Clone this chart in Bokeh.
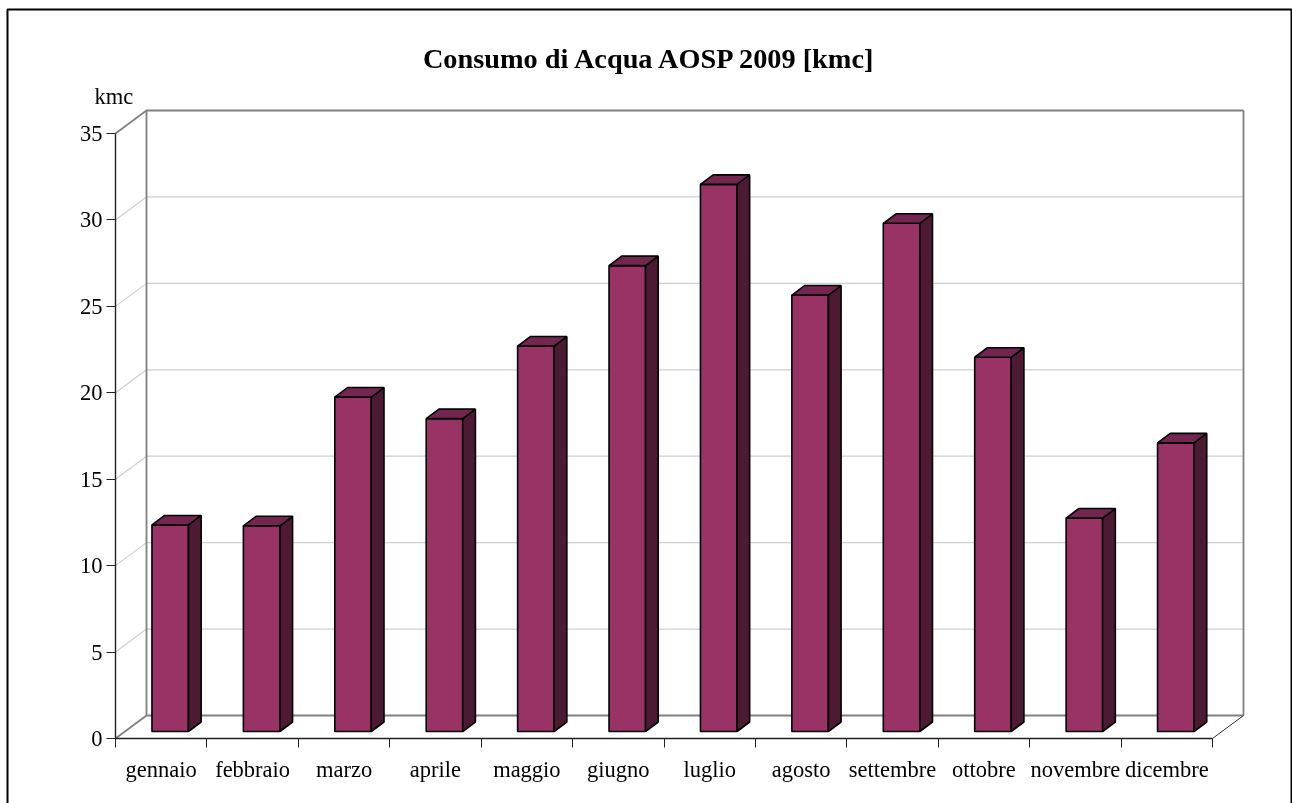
from bokeh.plotting import figure
from bokeh.embed import file_html
from bokeh.resources import INLINE
from bokeh.models import FixedTicker, Label, Range1d

months = ["gennaio", "febbraio", "marzo", "aprile", "maggio", "giugno",
          "luglio", "agosto", "settembre", "ottobre", "novembre", "dicembre"]
consumo = [11.95, 11.9, 19.35, 18.1, 22.3, 26.95, 31.65, 25.25, 29.4, 21.65, 12.35, 16.7]
y_ticks = [0, 5, 10, 15, 20, 25, 30, 35]
title_text = "Consumo di Acqua AOSP 2009 [kmc]"
unit_text = "kmc"

FONT = "Liberation Serif"
W, H = 1292, 803
L, R, T, B = 115, 1243, 110, 738
px_x = (1212 - 115) / 12
px_y = (738 - 133) / 35
DX, DY = (R - 1212) / px_x, (738 - 715) / px_y   # wall depth in data units
BW = 36.5 / px_x
BOFF = 9.0 / px_x
BBASE = 7.0 / px_y
SDX, SDY = 12.7 / px_x, 9.5 / px_y


def fx(px):
    return (px - L) / px_x


def fy(px):
    return (B - px) / px_y


p = figure(width=W, height=H, output_backend="svg", toolbar_location=None,
           x_range=Range1d(fx(0), fx(W)), y_range=Range1d(fy(H), fy(0)),
           min_border=0,
           background_fill_color="white", border_fill_color="white",
           styles={"position": "fixed", "left": "0px", "top": "0px"})
p.grid.visible = False
p.outline_line_color = None

# frame of the picture (open at the bottom, as in the reference)
p.line([fx(7), fx(7), fx(1291), fx(1291)], [fy(H + 5), fy(9), fy(9), fy(H + 5)], line_color="black", line_width=2)

# walls
for v in y_ticks[1:-1]:
    p.line([0, DX, 12 + DX], [v, v + DY, v + DY], line_color="#cfcfcf", line_width=1.2)
p.line([0, DX, 12 + DX], [35, 35 + DY, 35 + DY], line_color="#808080", line_width=1.8)
p.line([DX, DX], [DY, 35 + DY], line_color="#808080", line_width=1.8)
p.line([0, DX, 12 + DX], [0, DY, DY], line_color="#808080", line_width=1.8)
p.line([12 + DX, 12 + DX], [DY, 35 + DY], line_color="#808080", line_width=1.8)
p.line([12, 12 + DX], [0, DY], line_color="#303030", line_width=1)

# bars
xl = [i + (1 - BW) / 2 + BOFF for i in range(12)]
xr = [a + BW for a in xl]
bot = [BBASE] * 12
top = [BBASE + v for v in consumo]
p.quad(left=xl, right=xr, bottom=bot, top=top, fill_color="#993366", line_color="black", line_width=1.6)
p.patches([[r, r + SDX, r + SDX, r] for r in xr],
          [[b, b + SDY, t + SDY, t] for b, t in zip(bot, top)],
          fill_color="#4d1a33", line_color="black", line_width=1.6)
p.patches([[l, l + SDX, r + SDX, r] for l, r in zip(xl, xr)],
          [[t, t + SDY, t + SDY, t] for t in top],
          fill_color="#732650", line_color="black", line_width=1.6)

# axes, held in place inside the full-canvas frame
ya = p.yaxis[0]
ya.fixed_location = 0
ya.ticker = FixedTicker(ticks=y_ticks)
ya.bounds = (0, 35)
ya.axis_line_color = "#222222"
ya.axis_line_width = 1.4
ya.major_tick_in = 0
ya.major_tick_out = 9
ya.major_tick_line_color = "#222222"
ya.minor_tick_line_color = None
ya.major_label_text_font = FONT
ya.major_label_text_font_size = "22.5px"
ya.major_label_text_color = "black"
ya.major_label_standoff = 4

xa = p.xaxis[0]
xa.fixed_location = 0
xa.ticker = FixedTicker(ticks=[i + 0.5 for i in range(12)], minor_ticks=list(range(13)))
xa.major_label_overrides = {i + 0.5: m for i, m in enumerate(months)}
xa.bounds = (0, 12)
xa.axis_line_color = "#222222"
xa.axis_line_width = 1.4
xa.major_tick_line_color = None
xa.major_tick_in = 0
xa.major_tick_out = 9
xa.minor_tick_in = 0
xa.minor_tick_out = 9
xa.minor_tick_line_color = "#222222"
xa.major_label_text_font = FONT
xa.major_label_text_font_size = "22.5px"
xa.major_label_text_color = "black"
xa.major_label_standoff = 9

# title and unit
p.add_layout(Label(x=fx(650), y=fy(58), text=title_text, text_font=FONT, text_font_style="bold",
                   text_font_size="28.3px", text_color="black", text_align="center", text_baseline="middle"))
p.add_layout(Label(x=fx(94), y=fy(96), text=unit_text, text_font=FONT, text_font_size="22.5px",
                   text_color="black", text_baseline="middle"))

open("out.html", "w").write(file_html(p, INLINE))
